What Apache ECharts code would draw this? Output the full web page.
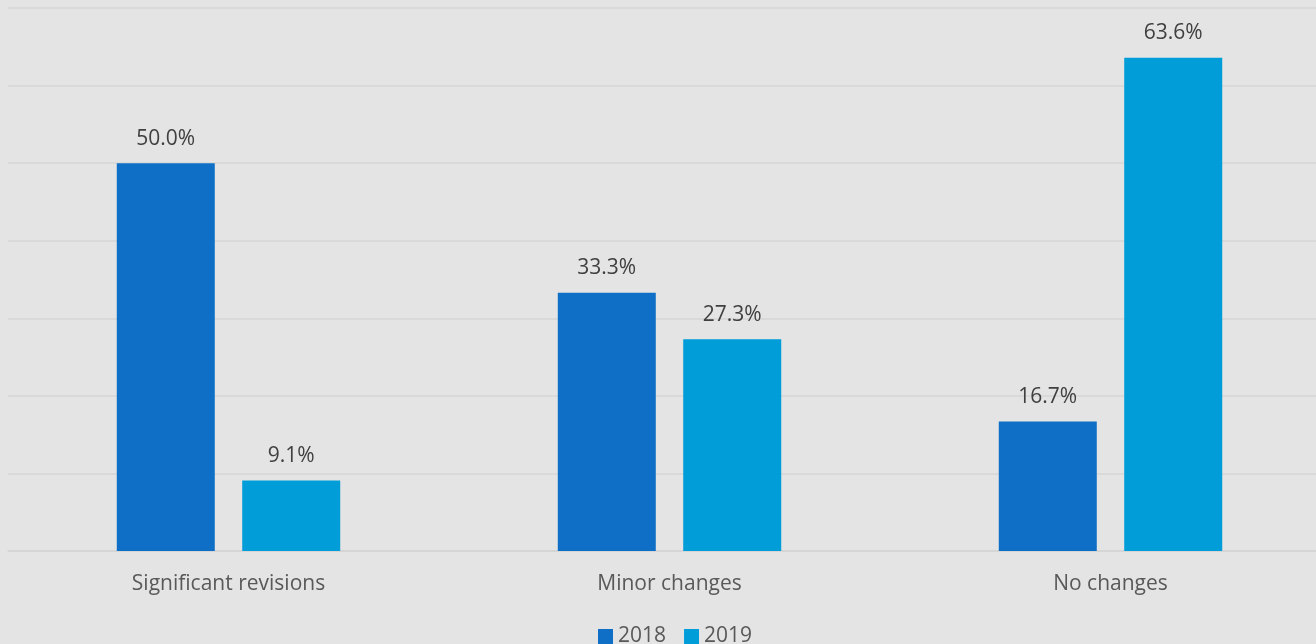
<!DOCTYPE html>
<html>
<head>
<meta charset="utf-8">
<style>
  html, body { margin: 0; padding: 0; background: #e4e4e4; }
  #chart { width: 1316px; height: 644px; }
</style>
<script src="https://cdn.jsdelivr.net/npm/echarts@6/dist/echarts.min.js"></script>
</head>
<body>
<div id="chart"></div>
<script>
const categories = ['Significant revisions', 'Minor changes', 'No changes'];
const values2018 = [50.0, 33.3, 16.7];
const values2019 = [9.1, 27.3, 63.6];

const chart = echarts.init(document.getElementById('chart'), null, { renderer: 'canvas' });

const labelStyle = {
  show: true,
  position: 'top',
  distance: 14,
  color: '#404040',
  fontSize: 21,
  fontFamily: 'Open Sans',
  formatter: p => p.value.toFixed(1) + '%',
};

chart.setOption({
  backgroundColor: '#e4e4e4',
  animation: false,
  grid: { left: 8, width: 1323, top: 8, bottom: 93, outerBoundsMode: 'none', containLabel: false },
  legend: {
    bottom: -8,
    left: 593,
    itemWidth: 15,
    itemHeight: 15,
    itemGap: 18,
    icon: 'rect',
    textStyle: { color: '#595959', fontSize: 21, fontFamily: 'Open Sans' },
    data: ['2018', '2019'],
  },
  xAxis: {
    type: 'category',
    data: categories,
    axisLine: { lineStyle: { color: '#d4d4d4', width: 1.5 } },
    axisTick: { show: false },
    axisLabel: { color: '#595959', fontSize: 21, fontFamily: 'Open Sans', margin: 23 },
  },
  yAxis: {
    type: 'value',
    min: 0,
    max: 70,
    interval: 10,
    axisLabel: { show: false },
    axisLine: { show: false },
    axisTick: { show: false },
    splitLine: { lineStyle: { color: '#d6d6d6', width: 1.5 } },
  },
  series: [
    {
      name: '2018',
      type: 'bar',
      data: values2018,
      barWidth: 98,
      barGap: '28%',
      itemStyle: { color: '#0f6fc6' },
      label: labelStyle,
    },
    {
      name: '2019',
      type: 'bar',
      data: values2019,
      barWidth: 98,
      itemStyle: { color: '#009dd9' },
      label: labelStyle,
    },
  ],
});
</script>
</body>
</html>
